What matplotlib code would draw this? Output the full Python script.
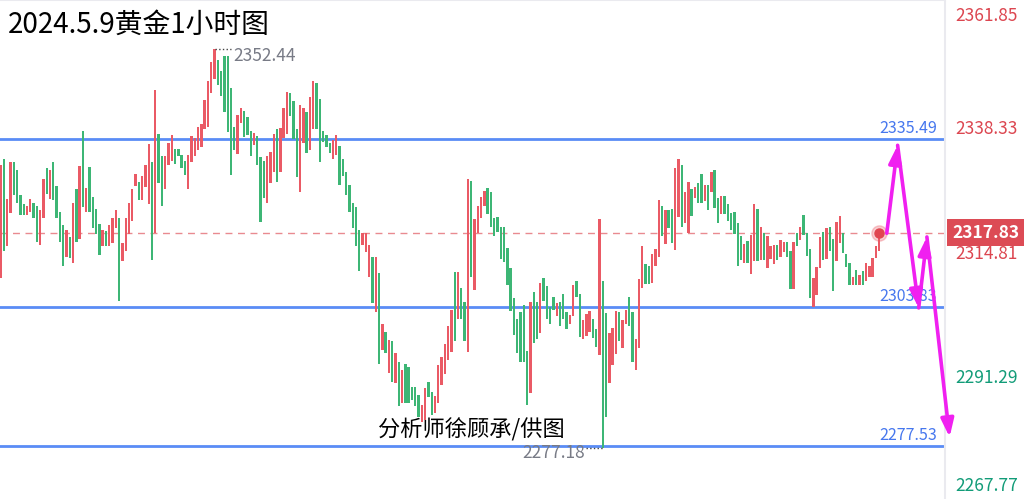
import matplotlib
matplotlib.use('Agg')
import matplotlib.pyplot as plt

plt.rcParams['font.family'] = ['Noto Sans CJK SC', 'DejaVu Sans']

# 1小时K线 (红涨绿跌), 读图估算
opens = [
    2309.2, 2331.8, 2315.2, 2321.5, 2331.1, 2329.6, 2324.9, 2323.2, 2321.2, 2321.7,
    2323.4, 2322.8, 2315.5, 2320.6, 2330.0, 2324.2, 2331.1, 2326.6, 2321.7, 2319.2,
    2313.3, 2316.9, 2312.1, 2326.0, 2316.6, 2337.0, 2321.7, 2330.2, 2324.5, 2322.3,
    2319.4, 2315.2, 2318.1, 2315.2, 2315.8, 2318.6, 2320.6, 2312.4, 2314.4, 2317.5,
    2320.0, 2326.7, 2327.4, 2324.0, 2326.5, 2323.2, 2331.1, 2317.7, 2336.4, 2332.2,
    2326.1, 2330.5, 2331.4, 2333.6, 2333.6, 2332.5, 2331.4, 2326.0, 2331.1, 2332.2,
    2333.4, 2333.9, 2337.3, 2337.8, 2344.2, 2346.8, 2350.4, 2348.4, 2351.2, 2351.2,
    2345.2, 2337.7, 2332.6, 2338.5, 2340.8, 2339.7, 2337.0, 2334.4, 2336.1, 2332.0,
    2331.3, 2323.5, 2327.1, 2329.2, 2337.3, 2329.2, 2335.6, 2336.4, 2344.1, 2342.7,
    2337.3, 2325.5, 2334.7, 2340.5, 2333.5, 2337.4, 2346.0, 2343.0, 2337.0, 2336.3,
    2334.7, 2331.7, 2332.5, 2334.2, 2331.7, 2329.3, 2326.8, 2323.5, 2322.6, 2318.4,
    2315.5, 2314.1, 2309.4, 2313.3, 2302.8, 2310.1, 2295.7, 2299.1, 2291.4, 2297.3,
    2289.4, 2293.4, 2285.6, 2293.1, 2292.5, 2288.7, 2288.7, 2287.2, 2282.1, 2282.4,
    2289.7, 2287.8, 2283.8, 2285.6, 2289.0, 2291.1, 2293.8, 2295.2, 2310.3, 2301.6,
    2307.3, 2304.8, 2295.3, 2327.6, 2307.0, 2317.8, 2320.6, 2322.8, 2326.2, 2325.4,
    2320.6, 2320.8, 2318.8, 2318.8, 2315.0, 2311.1, 2305.4, 2301.6, 2302.8, 2304.1,
    2295.5, 2287.5, 2306.7, 2304.8, 2298.9, 2309.2, 2307.7, 2303.8, 2305.7, 2302.1,
    2304.7, 2306.2, 2302.8, 2300.6, 2302.0, 2308.7, 2306.2, 2297.7, 2298.3, 2299.1,
    2301.6, 2299.6, 2294.7, 2308.7, 2302.6, 2289.5, 2292.8, 2294.9, 2302.8, 2296.0,
    2300.5, 2305.6, 2302.8, 2291.9, 2296.0, 2307.3, 2311.8, 2311.6, 2308.4, 2311.6,
    2313.3, 2322.8, 2315.6, 2322.1, 2322.3, 2314.5, 2320.7, 2330.5, 2319.6, 2317.7,
    2326.0, 2324.3, 2327.1, 2328.8, 2323.8, 2326.8, 2325.5, 2329.6, 2324.3, 2321.3,
    2324.8, 2323.2, 2321.5, 2321.8, 2319.7, 2317.2, 2312.1, 2316.3, 2310.0, 2312.5,
    2322.2, 2312.6, 2317.7, 2311.1, 2312.8, 2311.9, 2315.5, 2313.3, 2314.2, 2316.0,
    2314.3, 2307.1, 2317.7, 2316.4, 2321.1, 2317.7, 2314.7, 2303.8, 2306.0, 2311.1,
    2318.0, 2312.8, 2318.9, 2316.7, 2312.5, 2315.8, 2317.7, 2313.8, 2312.1, 2307.9,
    2310.8, 2307.9, 2310.6, 2308.7, 2309.5, 2309.4, 2313.0, 2314.4,
]
closes = [
    2330.6, 2314.4, 2324.2, 2331.1, 2324.9, 2323.5, 2321.2, 2321.2, 2322.9, 2324.2,
    2320.6, 2316.0, 2322.0, 2328.0, 2325.1, 2329.6, 2324.0, 2320.6, 2316.0, 2311.6,
    2318.3, 2313.0, 2323.4, 2316.0, 2330.3, 2322.6, 2326.2, 2321.7, 2318.6, 2317.5,
    2313.5, 2318.3, 2315.2, 2319.2, 2320.6, 2322.0, 2305.0, 2315.8, 2320.6, 2323.4,
    2326.0, 2328.8, 2324.0, 2328.5, 2330.5, 2334.5, 2312.7, 2344.7, 2327.1, 2322.9,
    2332.2, 2334.7, 2336.2, 2330.8, 2332.2, 2330.0, 2328.6, 2332.5, 2336.1, 2335.6,
    2337.8, 2338.4, 2342.9, 2346.5, 2350.0, 2352.44, 2345.7, 2343.7, 2340.5, 2336.8,
    2328.6, 2333.4, 2340.1, 2341.3, 2335.9, 2336.2, 2332.2, 2336.7, 2330.6, 2319.8,
    2324.3, 2332.3, 2333.0, 2336.4, 2327.4, 2337.5, 2341.3, 2344.3, 2339.8, 2335.5,
    2328.4, 2342.0, 2341.3, 2332.8, 2343.5, 2346.4, 2337.4, 2331.2, 2335.0, 2334.0,
    2332.8, 2335.3, 2336.3, 2326.9, 2328.5, 2324.9, 2321.8, 2318.6, 2315.2, 2310.5,
    2317.7, 2317.7, 2315.5, 2304.5, 2313.3, 2293.1, 2300.6, 2295.0, 2297.5, 2289.7,
    2295.0, 2285.0, 2291.9, 2285.6, 2285.6, 2286.2, 2285.0, 2283.1, 2285.3, 2288.4,
    2286.8, 2283.4, 2286.9, 2292.8, 2294.3, 2296.8, 2300.1, 2303.2, 2297.4, 2310.3,
    2301.6, 2297.4, 2327.9, 2309.5, 2320.3, 2322.8, 2324.5, 2325.7, 2321.4, 2318.8,
    2317.2, 2318.0, 2312.8, 2312.2, 2307.9, 2303.1, 2298.5, 2295.1, 2293.4, 2293.3,
    2285.2, 2304.7, 2297.0, 2297.7, 2308.4, 2305.0, 2301.6, 2300.5, 2303.3, 2304.5,
    2300.2, 2301.6, 2299.6, 2302.3, 2307.9, 2305.6, 2298.2, 2301.3, 2302.4, 2303.0,
    2297.9, 2296.3, 2320.3, 2277.18, 2283.0, 2298.8, 2299.9, 2303.0, 2297.4, 2301.3,
    2303.3, 2300.2, 2293.3, 2297.7, 2309.0, 2315.2, 2308.2, 2308.2, 2313.7, 2314.7,
    2324.0, 2317.2, 2322.1, 2318.6, 2315.8, 2330.0, 2331.8, 2318.9, 2325.5, 2327.3,
    2321.0, 2326.5, 2323.5, 2323.5, 2326.8, 2322.1, 2329.3, 2322.4, 2319.6, 2324.8,
    2321.3, 2320.1, 2318.4, 2317.5, 2311.5, 2312.6, 2315.7, 2312.1, 2317.4, 2323.3,
    2312.5, 2318.9, 2312.6, 2317.2, 2315.2, 2315.5, 2312.6, 2316.5, 2316.1, 2313.2,
    2307.1, 2316.1, 2315.3, 2318.9, 2317.4, 2313.4, 2305.4, 2309.2, 2311.3, 2316.9,
    2312.6, 2318.6, 2314.4, 2306.8, 2319.9, 2320.9, 2314.0, 2311.3, 2307.9, 2309.5,
    2307.9, 2309.8, 2307.9, 2312.0, 2311.5, 2313.0, 2315.2, 2317.83,
]

levels = [2335.49, 2303.83, 2277.53]
axis_prices = [2361.85, 2338.33, 2314.81, 2291.29, 2267.77]
last_price = 2317.83
high_price = 2352.44
high_bar = 65
low_price = 2277.18
low_bar = 183

# 预测路径
path_x = [269.3, 272.6, 279.0, 281.5, 288.4]
path_y = [2317.7, 2334.3, 2303.6, 2317.0, 2279.2]

title = '2024.5.9黄金1小时图'
credit = '分析师徐顾承/供图'

up_color = '#ea5a65'
down_color = '#3db675'
blue = '#5a8cf6'
label_red = '#dc4650'
label_green = '#129c78'
magenta = '#f020f0'

fig = plt.figure(figsize=(10.24, 4.99), dpi=100)
ax = fig.add_axes([0, 0, 945 / 1024, 1])
ax.set_xlim(-0.2, 287.0)
ax.set_ylim(2267.53, 2361.73)

x = list(range(len(opens)))
bottoms = [min(o, c) for o, c in zip(opens, closes)]
heights = [max(abs(c - o), 0.15) for o, c in zip(opens, closes)]
colors = [up_color if c >= o else down_color for o, c in zip(opens, closes)]
ax.bar(x, heights, bottom=bottoms, width=0.72, color=colors, zorder=3)

for lv in levels:
    ax.axhline(lv, color=blue, lw=2, zorder=2)
    ax.annotate(f'{lv:.2f}', xy=(0.9915, lv), xycoords=ax.get_yaxis_transform(),
                xytext=(0, 7.5), textcoords='offset points', ha='right', va='center',
                color='#4677ee', fontsize=11.5, zorder=4)

ax.axhline(last_price, color='#e98a90', lw=1, ls=(0, (5, 4)), zorder=1)
ax.plot(len(closes) - 1, last_price, 'o', ms=11, color=up_color, alpha=0.3, zorder=5)
ax.plot(len(closes) - 1, last_price, 'o', ms=6.5, color='#e04650', zorder=5)

# 最高 / 最低 标注
ax.plot([high_bar, high_bar + 5], [high_price, high_price], ls=':', color='#444444', lw=1, zorder=4)
ax.annotate(f'{high_price:.2f}', xy=(high_bar, high_price), xytext=(13.5, -5),
            textcoords='offset points', ha='left', va='center', color='#787b86', fontsize=12.5)
ax.plot([low_bar - 5, low_bar], [low_price, low_price], ls=':', color='#444444', lw=1, zorder=4)
ax.annotate(f'{low_price:.2f}', xy=(low_bar, low_price), xytext=(-13, -4),
            textcoords='offset points', ha='right', va='center', color='#787b86', fontsize=12.5)

for i in range(len(path_x) - 1):
    ax.annotate('', xy=(path_x[i + 1], path_y[i + 1]), xytext=(path_x[i], path_y[i]),
                arrowprops=dict(arrowstyle='-|>,head_length=0.9,head_width=0.32', color=magenta,
                                lw=2.6, shrinkA=0, shrinkB=0, mutation_scale=12),
                annotation_clip=False, zorder=6)

# 右侧价格轴
offsets = [-12, -3.6, -3.9, -3.6, 8.4]
label_colors = [label_red, label_red, label_red, label_green, label_green]
for p, dy, col in zip(axis_prices, offsets, label_colors):
    ax.annotate(f'{p:.2f}', xy=(1.0106, p), xycoords=ax.get_yaxis_transform(),
                xytext=(0, dy), textcoords='offset points', ha='left', va='center',
                color=col, fontsize=12.5, annotation_clip=False, zorder=6)

ax.text(1.0075, last_price, f'{last_price:.2f}', transform=ax.get_yaxis_transform(),
        ha='left', va='center', color='white', fontsize=12.5, fontweight='bold', zorder=8,
        bbox=dict(boxstyle='square,pad=0.28', fc='#dc4b55', ec='none'))

ax.text(0.008, 0.95, title, transform=fig.transFigure, ha='left', va='center',
        fontsize=20, color='black')
ax.text(0.4, 0.138, credit, transform=ax.transAxes, ha='left', va='center',
        fontsize=16, color='black', zorder=7)

ax.set_xticks([])
ax.set_yticks([])
for side in ['left', 'bottom']:
    ax.spines[side].set_visible(False)
for side in ['top', 'right']:
    ax.spines[side].set_color('#eaeaef')
    ax.spines[side].set_linewidth(1.5)

fig.savefig('out.png', dpi=100, facecolor='white')
